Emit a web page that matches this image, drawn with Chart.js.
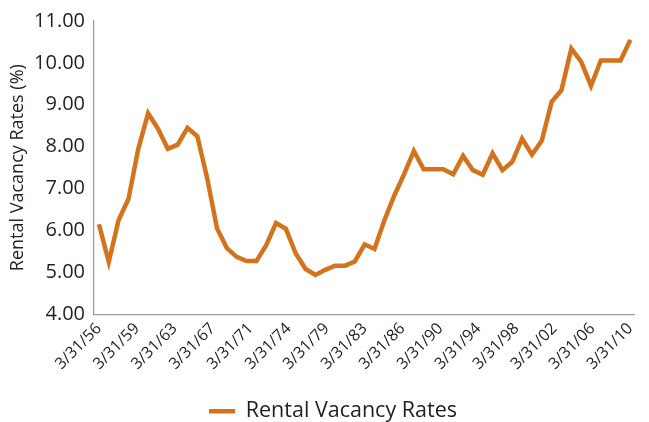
<!DOCTYPE html>
<html>
<head>
<meta charset="utf-8">
<script src="https://cdn.jsdelivr.net/npm/chart.js@4.4.1/dist/chart.umd.min.js"></script>
<style>
  html, body { margin: 0; padding: 0; background: #fff; }
  #wrap { width: 649px; height: 422px; }
</style>
</head>
<body>
<div id="wrap"><canvas id="vacancy_chart"></canvas></div>
<script>
// ---------- data ----------
const years = [];
for (let y = 1956; y <= 2010; y++) years.push(y);

const vacancy = [
  6.15, 5.25, 6.25, 6.75, 7.95, 8.8, 8.43, 7.95, 8.05, 8.45,
  8.25, 7.25, 6.05, 5.58, 5.37, 5.27, 5.27, 5.65, 6.18, 6.04,
  5.45, 5.08, 4.94, 5.06, 5.16, 5.16, 5.26, 5.67, 5.56, 6.24,
  6.83, 7.34, 7.9, 7.46, 7.46, 7.46, 7.34, 7.78, 7.44, 7.33,
  7.84, 7.44, 7.64, 8.19, 7.81, 8.14, 9.07, 9.35, 10.34, 10.03,
  9.45, 10.06, 10.06, 10.06, 10.55
];

const tickLabels = ['3/31/56', '3/31/59', '3/31/63', '3/31/67', '3/31/71', '3/31/74', '3/31/79',
  '3/31/83', '3/31/86', '3/31/90', '3/31/94', '3/31/98', '3/31/02', '3/31/06', '3/31/10'];

const seriesName = 'Rental Vacancy Rates';
const yTitle = 'Rental Vacancy Rates (%)';

// ---------- chart ----------
const orange = '#D4731B';
const textColor = '#231F20';
const FONT = '"Open Sans", sans-serif';

const points = years.map((yr, i) => ({ x: i, y: vacancy[i] }));
const lastIdx = years.length - 1;

new Chart(document.getElementById('vacancy_chart'), {
  type: 'line',
  data: {
    datasets: [{
      label: seriesName,
      data: points,
      borderColor: orange,
      backgroundColor: orange,
      borderWidth: 4.5,
      pointRadius: 0,
      tension: 0,
      fill: false,
      pointStyle: 'line'
    }]
  },
  options: {
    responsive: true,
    maintainAspectRatio: false,
    animation: false,
    // left padding pushes the legend a bit right of centre, like the original
    layout: { padding: { left: 26, right: 9, top: 8, bottom: -10 } },
    plugins: {
      tooltip: { enabled: false },
      legend: {
        position: 'bottom',
        labels: {
          usePointStyle: true,
          pointStyleWidth: 26,
          boxWidth: 26,
          boxHeight: 10,
          padding: 22,
          color: textColor,
          font: { family: FONT, size: 21.5 }
        }
      }
    },
    scales: {
      x: {
        type: 'linear',
        min: -0.5,
        max: lastIdx + 0.4,
        grid: { display: false, drawTicks: false },
        border: { color: '#9D9D9D', width: 1.3 },
        afterBuildTicks: (axis) => {
          axis.ticks = tickLabels.map((t, i) => ({ value: i * lastIdx / (tickLabels.length - 1) }));
        },
        ticks: {
          autoSkip: false,
          minRotation: 45,
          maxRotation: 45,
          padding: 5,
          color: textColor,
          font: { family: FONT, size: 16 },
          callback: (v, i) => tickLabels[i]
        }
      },
      y: {
        min: 4,
        max: 11,
        grid: { display: false, drawTicks: false },
        border: { color: '#9D9D9D', width: 1.3 },
        afterFit: (axis) => { axis.width = 68; },
        ticks: {
          stepSize: 1,
          padding: 9,
          color: textColor,
          font: { family: FONT, size: 20 },
          callback: (v) => v.toFixed(2)
        },
        title: {
          display: true,
          text: yTitle,
          color: textColor,
          padding: { top: -19, bottom: 2 },
          font: { family: FONT, size: 18 }
        }
      }
    }
  }
});
</script>
</body>
</html>
